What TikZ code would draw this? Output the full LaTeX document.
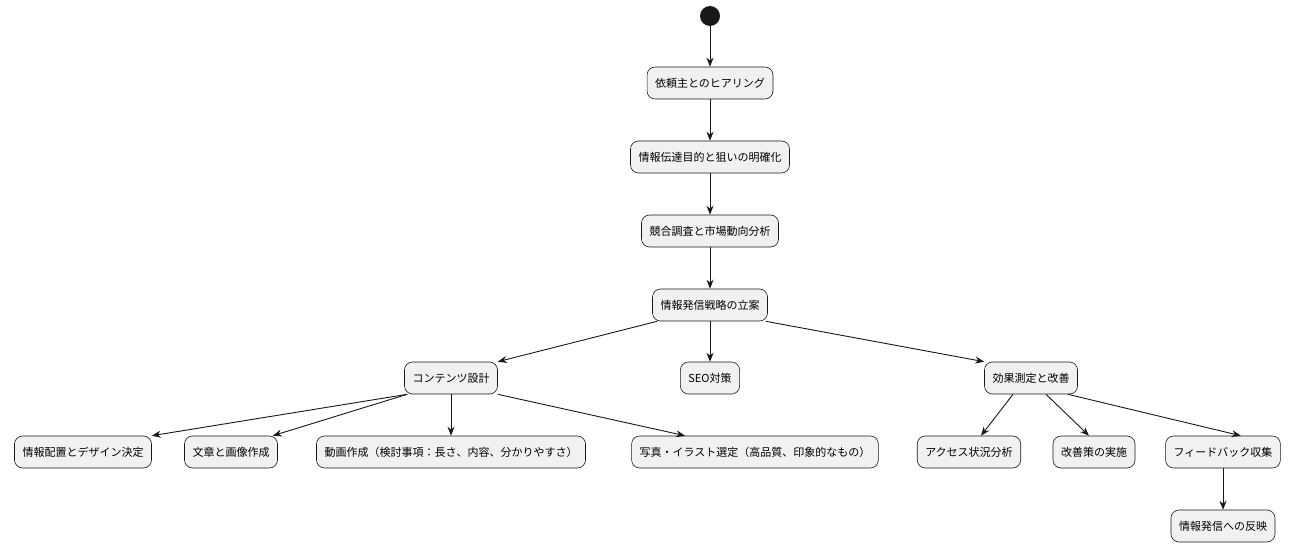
\documentclass[tikz,border=0pt]{standalone}
\usepackage{fontspec}
\setmainfont{Noto Sans CJK JP}
\usetikzlibrary{arrows.meta}
\definecolor{bx}{HTML}{F1F1F1}
\definecolor{ln}{HTML}{181818}
\begin{document}
\begin{tikzpicture}[x=1pt,y=-1pt,
  act/.style={draw=ln,fill=bx,rounded corners=8pt,minimum height=32pt,inner xsep=8pt,font=\fontsize{11}{13}\selectfont,line width=0.6pt},
  arr/.style={draw=ln,line width=0.9pt,-{Stealth[length=9pt,width=7pt]}}]
\useasboundingbox (0,0) rectangle (1292,548);
\node[circle,fill=ln,minimum size=20pt,inner sep=0] (s) at (710,16) {};
\node[act] (n1) at (710,83) {依頼主とのヒアリング};
\node[act] (n2) at (710,157) {情報伝達目的と狙いの明確化};
\node[act] (n3) at (710,231) {競合調査と市場動向分析};
\node[act] (n4) at (710,305) {情報発信戦略の立案};
\node[act] (n5) at (451,378) {コンテンツ設計};
\node[act] (n6) at (710,378) {SEO対策};
\node[act] (n7) at (1031,378) {効果測定と改善};
\node[act] (l1) at (83,452) {情報配置とデザイン決定};
\node[act] (l2) at (231,452) {文章と画像作成};
\node[act] (l3) at (451,452) {動画作成（検討事項：長さ、内容、分かりやすさ）};
\node[act] (l4) at (755,452) {写真・イラスト選定（高品質、印象的なもの）};
\node[act] (l5) at (969,452) {アクセス状況分析};
\node[act] (l6) at (1094,452) {改善策の実施};
\node[act] (l7) at (1223,452) {フィードバック収集};
\node[act] (l8) at (1223,526) {情報発信への反映};
\draw[arr] (s) -- (n1);
\draw[arr] (n1) -- (n2);
\draw[arr] (n2) -- (n3);
\draw[arr] (n3) -- (n4);
\draw[arr] (n4.south west) ++(5,0) -- (n5.north east);
\draw[arr] (n4) -- (n6);
\draw[arr] (n4.south east) ++(-2,0) -- (n7.north west);
\draw[arr] (n5.south west) ++(3,0) -- (l1.north east);
\draw[arr] (n5.south west) ++(3,0) coordinate (c1) (c1) -- ([xshift=-5pt]l2.north east);
\draw[arr] (n5.south) -- (l3.north);
\draw[arr] (n5.south east) -- ([xshift=-70pt]l4.north);
\draw[arr] ([xshift=-18pt]n7.south) -- ([xshift=12pt]l5.north);
\draw[arr] ([xshift=15pt]n7.south) -- ([xshift=-5pt]l6.north);
\draw[arr] ([xshift=-10pt]n7.south east) -- ([xshift=-40pt]l7.north east);
\draw[arr] (l7) -- (l8);
\end{tikzpicture}
\end{document}
